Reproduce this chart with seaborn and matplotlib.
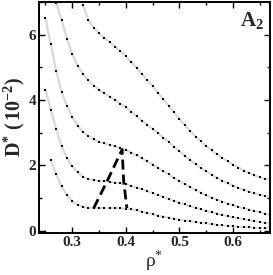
import numpy as np
import pandas as pd
import matplotlib
matplotlib.use("Agg")
import matplotlib.pyplot as plt
from matplotlib.ticker import MultipleLocator
import seaborn as sns

sns.set_style("ticks")
plt.rcParams['font.family'] = ['Liberation Serif', 'DejaVu Serif']
plt.rcParams['mathtext.fontset'] = 'custom'
plt.rcParams['mathtext.rm'] = 'Liberation Serif'
plt.rcParams['mathtext.bf'] = 'Liberation Serif:bold'
plt.rcParams['mathtext.it'] = 'Liberation Serif:italic'

# ---- data ----
rho_1 = [0.32, 0.33, 0.34, 0.35, 0.36, 0.37, 0.38, 0.39, 0.40, 0.41, 0.42, 0.43,
         0.44, 0.45, 0.46, 0.47, 0.48, 0.49, 0.50, 0.51, 0.52, 0.53, 0.54, 0.55,
         0.56, 0.57, 0.58, 0.59, 0.60, 0.61, 0.62, 0.63, 0.64, 0.65, 0.66, 0.67]
D_1 = [6.90, 6.45, 6.20, 6.04, 5.90, 5.77, 5.63, 5.49, 5.33, 5.16, 4.98, 4.80,
       4.61, 4.42, 4.22, 4.02, 3.82, 3.62, 3.42, 3.23, 3.05, 2.88, 2.73, 2.59,
       2.46, 2.34, 2.23, 2.12, 2.02, 1.93, 1.84, 1.76, 1.69, 1.63, 1.58, 1.54]

rho_2 = [0.27, 0.28, 0.29, 0.30, 0.31, 0.32, 0.33, 0.34, 0.35, 0.36, 0.37, 0.38,
         0.39, 0.40, 0.41, 0.42, 0.43, 0.44, 0.45, 0.46, 0.47, 0.48, 0.49, 0.50,
         0.51, 0.52, 0.53, 0.54, 0.55, 0.56, 0.57, 0.58, 0.59, 0.60, 0.61, 0.62,
         0.63, 0.64, 0.65, 0.66, 0.67]
D_2 = [6.98, 6.45, 5.88, 5.40, 5.05, 4.80, 4.60, 4.44, 4.31, 4.20, 4.10, 4.00,
       3.89, 3.77, 3.64, 3.50, 3.37, 3.24, 3.11, 2.98, 2.85, 2.71, 2.57, 2.43,
       2.29, 2.16, 2.03, 1.92, 1.81, 1.71, 1.62, 1.53, 1.45, 1.38, 1.31, 1.25,
       1.19, 1.14, 1.10, 1.06, 1.03]

rho_3 = [0.25, 0.26, 0.27, 0.28, 0.29, 0.30, 0.31, 0.32, 0.33, 0.34, 0.35, 0.36,
         0.37, 0.38, 0.39, 0.40, 0.41, 0.42, 0.43, 0.44, 0.45, 0.46, 0.47, 0.48,
         0.49, 0.50, 0.51, 0.52, 0.53, 0.54, 0.55, 0.56, 0.57, 0.58, 0.59, 0.60,
         0.61, 0.62, 0.63, 0.64, 0.65, 0.66, 0.67]
D_3 = [6.50, 5.70, 4.90, 4.25, 3.82, 3.47, 3.21, 3.02, 2.89, 2.79, 2.72, 2.67,
       2.63, 2.58, 2.53, 2.47, 2.39, 2.30, 2.21, 2.12, 2.02, 1.92, 1.82, 1.72,
       1.62, 1.52, 1.42, 1.33, 1.24, 1.16, 1.08, 1.01, 0.95, 0.89, 0.83, 0.78,
       0.73, 0.68, 0.64, 0.60, 0.56, 0.52, 0.48]

rho_4 = rho_3
D_4 = [4.30, 3.70, 3.10, 2.60, 2.22, 1.97, 1.78, 1.65, 1.58, 1.54, 1.52, 1.51,
       1.49, 1.47, 1.45, 1.42, 1.37, 1.32, 1.27, 1.21, 1.15, 1.09, 1.03, 0.97,
       0.91, 0.86, 0.80, 0.75, 0.70, 0.65, 0.60, 0.56, 0.52, 0.48, 0.44, 0.41,
       0.38, 0.35, 0.32, 0.29, 0.27, 0.24, 0.22]

rho_5 = rho_3[1:]
D_5 = [2.15, 1.72, 1.36, 1.08, 0.90, 0.79, 0.73, 0.70, 0.69, 0.69, 0.69, 0.69,
       0.69, 0.68, 0.67, 0.65, 0.62, 0.58, 0.54, 0.50, 0.46, 0.43, 0.40, 0.37,
       0.34, 0.31, 0.29, 0.26, 0.24, 0.22, 0.20, 0.18, 0.16, 0.15, 0.13, 0.12,
       0.11, 0.10, 0.09, 0.08, 0.07, 0.07]

# dashed boundary curve
rho_dash = [0.340, 0.366, 0.393, 0.396, 0.402]
D_dash = [0.69, 1.55, 2.48, 1.50, 0.69]

xticks = [0.3, 0.4, 0.5, 0.6]
yticks = [0, 2, 4, 6]

frames = []
for i, (r, d) in enumerate([(rho_1, D_1), (rho_2, D_2), (rho_3, D_3),
                            (rho_4, D_4), (rho_5, D_5)]):
    frames.append(pd.DataFrame({"rho": r, "D": d, "curve": i}))
df = pd.concat(frames, ignore_index=True)
dash_df = pd.DataFrame({"rho": rho_dash, "D": D_dash})

fig = plt.figure(figsize=(2.73, 2.75), dpi=100)
ax = fig.add_axes([0.143, 0.153, 0.846, 0.840])

sns.lineplot(data=df, x="rho", y="D", units="curve", estimator=None,
             color="#d8d8d8", lw=1.6, ax=ax, legend=False)
sns.scatterplot(data=df, x="rho", y="D", marker="s", s=3.5, color="black",
                linewidth=0, ax=ax, legend=False, zorder=3)
sns.lineplot(data=dash_df, x="rho", y="D", sort=False, estimator=None,
             color="black", lw=2.0, ax=ax, legend=False, zorder=4,
             dashes=False)
ax.lines[-1].set_dashes([3.6, 1.8])

ax.set_xlim(0.238, 0.669)
ax.set_ylim(-0.07, 7.0)
ax.set_xticks(xticks)
ax.set_yticks(yticks)
ax.set_xticklabels([f"{t:.1f}" for t in xticks])
ax.set_yticklabels([str(t) for t in yticks])
ax.xaxis.set_minor_locator(MultipleLocator(0.05))
ax.yaxis.set_minor_locator(MultipleLocator(1))
ax.tick_params(which="both", direction="in", top=True, right=True,
               width=1.0, color="black")
ax.tick_params(which="major", length=4.5, labelsize=11, pad=2)
ax.tick_params(which="minor", length=2.5)
for lab in ax.get_xticklabels() + ax.get_yticklabels():
    lab.set_fontweight("bold")
for s in ax.spines.values():
    s.set_linewidth(1.4)
    s.set_color("black")

ax.set_xlabel(r"$\mathrm{\rho}^{*}$", fontsize=14, labelpad=0)
ax.set_ylabel(r"$\mathbf{D^{*}\ (\,10^{-2})}$", fontsize=14.5, labelpad=1)
ax.text(0.87, 0.895, r"$\mathbf{A_{2}}$", transform=ax.transAxes,
        fontsize=15, ha="left", va="baseline")

fig.savefig("out.png", dpi=100)
